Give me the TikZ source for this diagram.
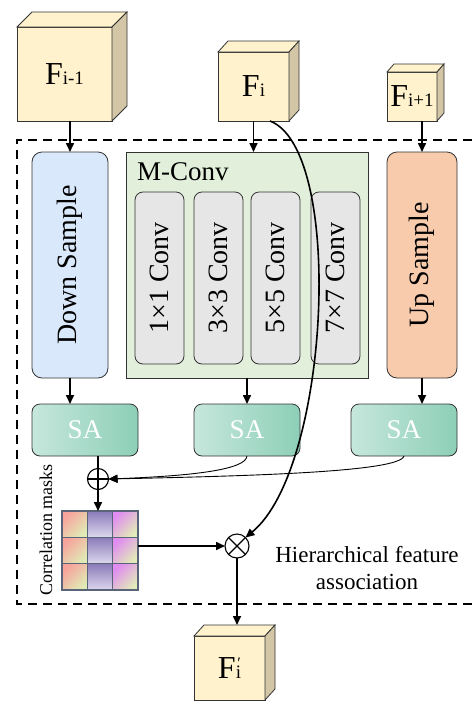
\documentclass[tikz,border=0pt]{standalone}
\usepackage{fontspec}
\setmainfont{Liberation Serif}
\usetikzlibrary{arrows.meta,calc}
\definecolor{cubefront}{HTML}{FFF2CC}
\definecolor{cubeside}{HTML}{D3C6A6}
\definecolor{dsfill}{HTML}{DAE8FC}
\definecolor{mcfill}{HTML}{E2EFDA}
\definecolor{convfill}{HTML}{E6E6E6}
\definecolor{usfill}{HTML}{F8CBAD}
\definecolor{saL}{HTML}{C6E7DC}
\definecolor{saR}{HTML}{8DCFB7}
\definecolor{edge}{HTML}{333333}
\definecolor{gridedge}{HTML}{5A6478}
\definecolor{ca}{HTML}{F7A29B}
\definecolor{cb}{HTML}{E0EBB6}
\definecolor{pa}{HTML}{8A7BB9}
\definecolor{pb}{HTML}{DDD8EE}
\definecolor{ma}{HTML}{E08CF0}
\definecolor{mb}{HTML}{E2ECB8}
\begin{document}
\begin{tikzpicture}[x=1pt,y=1pt,
  cubeface/.style={draw=edge, line width=0.8pt, fill=cubefront, inner sep=0pt, outer sep=0pt},
  cubeedge/.style={draw=edge, line width=0.8pt, fill=cubefront},
  cubeshade/.style={draw=edge, line width=0.8pt, fill=cubeside},
  blockbox/.style={draw=edge, line width=0.8pt, rounded corners=10pt, inner sep=0pt, outer sep=0pt, font=\fontsize{28}{28}\selectfont},
  convbox/.style={draw=edge, line width=0.8pt, rounded corners=8pt, fill=convfill, inner sep=0pt, outer sep=0pt, minimum width=49, minimum height=172, font=\fontsize{28}{28}\selectfont},
  sabox/.style={draw=edge, line width=0.8pt, rounded corners=8pt, left color=saL, right color=saR, inner sep=0pt, outer sep=0pt, minimum width=106, minimum height=52, text=white, font=\fontsize{27}{27}\selectfont},
  arr/.style={line width=1.6pt, -{Triangle[length=9pt,width=8pt]}},
  plainline/.style={line width=1.6pt},
  thinarr/.style={line width=0.9pt, -{Triangle[length=9pt,width=8pt]}},
  opnode/.style={draw=black, line width=1.1pt, circle, fill=white, inner sep=0pt, outer sep=0pt},
  cellbox/.style={draw=gridedge, line width=1.3pt}
]
\path[use as bounding box] (0,0) rectangle (472,-702);

% dashed frame
\draw[line width=1.8pt, dash pattern=on 9pt off 6pt] (472,-140) -- (17,-140) -- (17,-604) -- (472,-604);

% cubes
\node[cubeface, minimum width=95, minimum height=94] (fim1) at (64.5,-74) {{\fontsize{32}{32}\selectfont F}{\fontsize{19}{19}\selectfont i-1}};
\draw[cubeedge] (fim1.north west) -- ++(15,15) -- ++(95,0) -- (fim1.north east) -- cycle;
\draw[cubeshade] (fim1.north east) -- ++(15,15) -- ++(0,-94) -- (fim1.south east) -- cycle;

\node[cubeface, minimum width=71, minimum height=69] (fi) at (253.5,-86.5) {{\fontsize{32}{32}\selectfont F}{\fontsize{19}{19}\selectfont i}};
\draw[cubeedge] (fi.north west) -- ++(10,11) -- ++(71,0) -- (fi.north east) -- cycle;
\draw[cubeshade] (fi.north east) -- ++(10,11) -- ++(0,-69) -- (fi.south east) -- cycle;

\node[cubeface, minimum width=50, minimum height=49] (fip1) at (412,-96.5) {{\fontsize{32}{32}\selectfont F}{\fontsize{19}{19}\selectfont i+1}};
\draw[cubeedge] (fip1.north west) -- ++(7,8) -- ++(50,0) -- (fip1.north east) -- cycle;
\draw[cubeshade] (fip1.north east) -- ++(7,8) -- ++(0,-49) -- (fip1.south east) -- cycle;

\node[cubeface, minimum width=71, minimum height=64] (fp) at (229.5,-668) {{\fontsize{32}{32}\selectfont F}{\fontsize{19}{19}\selectfont\rlap{\kern1.5pt\raisebox{10pt}{\fontsize{16}{16}\selectfont ′}}i}};
\draw[cubeedge] (fp.north west) -- ++(10,11) -- ++(71,0) -- (fp.north east) -- cycle;
\draw[cubeshade] (fp.north east) -- ++(10,11) -- ++(0,-64) -- (fp.south east) -- cycle;
\coordinate (fptop) at ($(fp.north)+(0,11)$);

% main blocks
\node[blockbox, fill=dsfill, minimum width=76, minimum height=226] (down) at (70,-265) {};
\node[rotate=90, font=\fontsize{28}{28}\selectfont] (downlbl) at (down.center) {Down Sample};
\node[draw=edge, line width=0.8pt, fill=mcfill, inner sep=0pt, outer sep=0pt, minimum width=242, minimum height=226] (mconv) at (247,-265) {};
\node[anchor=west, font=\fontsize{27}{27}\selectfont, inner sep=0pt] (mclbl) at (137,-172) {M-Conv};
\node[convbox] (c1) at (159.5,-278) {};
\node[convbox] (c3) at (218.5,-278) {};
\node[convbox] (c5) at (275.5,-278) {};
\node[convbox] (c7) at (335.5,-278) {};
\node[rotate=90, font=\fontsize{28}{28}\selectfont] (c1l) at (c1.center) {1×1 Conv};
\node[rotate=90, font=\fontsize{28}{28}\selectfont] (c3l) at (c3.center) {3×3 Conv};
\node[rotate=90, font=\fontsize{28}{28}\selectfont] (c5l) at (c5.center) {5×5 Conv};
\node[rotate=90, font=\fontsize{28}{28}\selectfont] (c7l) at (c7.center) {7×7 Conv};
\node[blockbox, fill=usfill, minimum width=70, minimum height=226] (up) at (422,-265) {};
\node[rotate=90, font=\fontsize{28}{28}\selectfont] (uplbl) at (up.center) {Up Sample};

% SA blocks
\node[sabox] (sa1) at (85,-430) {SA};
\node[sabox] (sa2) at (247,-430) {SA};
\node[sabox] (sa3) at (404,-430) {SA};

% operators
\node[opnode, minimum size=21] (op) at (98,-479) {};
\draw[line width=1.1pt] (op.north) -- (op.south) (op.west) -- (op.east);
\node[opnode, minimum size=24] (ot) at (237,-546) {};
\draw[line width=1.1pt] (ot.north west) -- (ot.south east) (ot.north east) -- (ot.south west);

% correlation grid
\node[minimum width=76, minimum height=79, inner sep=0pt, outer sep=0pt] (grid) at (100,-550.5) {};
\foreach \r in {0,1,2} {
  \draw[cellbox, top color=ca, bottom color=cb, shading angle=45] ($(grid.north west)+(0,-\r*26.333)$) rectangle ++(25.333,-26.333);
  \draw[cellbox, top color=pa, bottom color=pb] ($(grid.north west)+(25.333,-\r*26.333)$) rectangle ++(25.333,-26.333);
  \draw[cellbox, top color=ma, bottom color=mb, shading angle=45] ($(grid.north west)+(50.667,-\r*26.333)$) rectangle ++(25.333,-26.333);
}

% labels
\node[rotate=90, font=\fontsize{18}{18}\selectfont] (cmlbl) at (46,-530) {Correlation masks};
\node[align=center, font=\fontsize{23}{27}\selectfont] (hfa) at (367,-568) {Hierarchical feature\\association};

% connectors
\draw[arr] (down.north |- fim1.south) -- (down.north);
\draw[arr] (fi.south) -- (fi.south |- mconv.north);
\draw[arr] (up.north |- fip1.south) -- (up.north);
\draw[arr] (down.south) -- (down.south |- sa1.north);
\draw[arr] (mconv.south) -- (sa2.north);
\draw[arr] (up.south) -- (up.south |- sa3.north);
\draw[plainline] (sa1.south -| op) -- (op.north);
\draw[arr] (op.south) -- (op.south |- grid.north);
\draw[thinarr] (sa2.south) .. controls (246,-470) and (190,-476) .. (op.east);
\draw[thinarr] (sa3.south) .. controls (400,-472) and (250,-476) .. (op.east);
\draw[arr] (grid.east |- ot.west) -- (ot.west);
\draw[arr] ([xshift=-19pt]fi.south east) .. controls (345,-150) and (330,-468) .. (ot.north east);
\draw[arr] (ot.south) -- (ot.south |- fptop);
\end{tikzpicture}
\end{document}
